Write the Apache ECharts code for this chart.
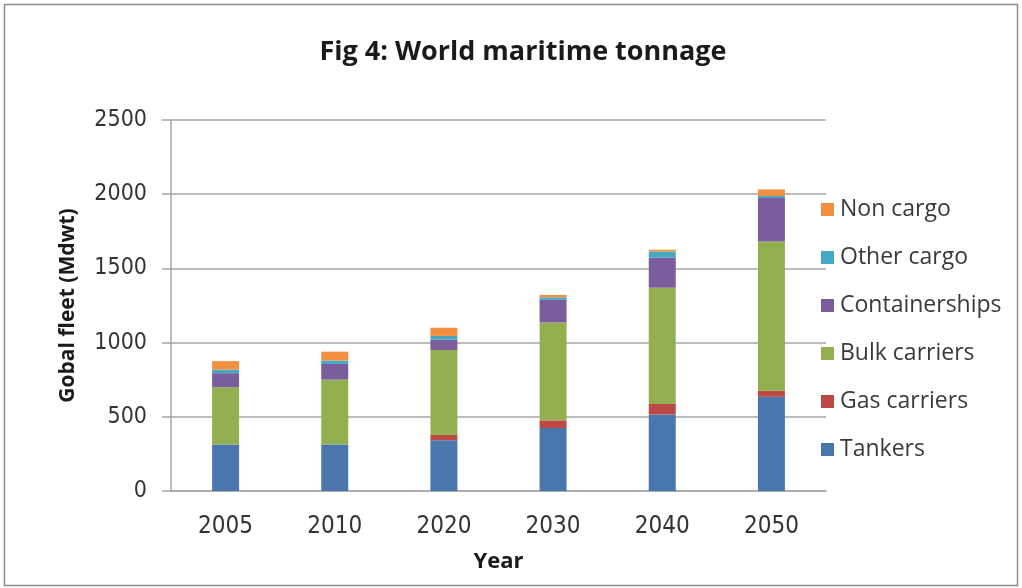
<!DOCTYPE html>
<html>
<head>
<meta charset="utf-8">
<title>World maritime tonnage</title>
<script src="https://cdn.jsdelivr.net/npm/echarts@6/dist/echarts.min.js"></script>
<style>
  html, body { margin: 0; padding: 0; background: #ffffff; }
  #chart { width: 1022px; height: 588px; }
</style>
</head>
<body>
<div id="chart"></div>
<script>
// Fleet size by ship type, million dead-weight tonnes
const years = ['2005', '2010', '2020', '2030', '2040', '2050'];
const tankers        = [313, 313, 342, 424, 516, 635];
const gasCarriers    = [0, 0, 36, 52, 71, 41];
const bulkCarriers   = [386, 438, 572, 660, 783, 1005];
const containerships = [95, 105, 69, 152, 202, 293];
const otherCargo     = [24, 23, 26, 17, 42, 14];
const nonCargo       = [57, 60, 55, 16, 12, 44];
const yTicks = [0, 500, 1000, 1500, 2000, 2500];

const seriesDefs = [
  { name: 'Tankers', data: tankers, color: '#4A76AE' },
  { name: 'Gas carriers', data: gasCarriers, color: '#BC4946' },
  { name: 'Bulk carriers', data: bulkCarriers, color: '#93B051' },
  { name: 'Containerships', data: containerships, color: '#7B5C9D' },
  { name: 'Other cargo', data: otherCargo, color: '#47A8C2' },
  { name: 'Non cargo', data: nonCargo, color: '#F28F40' }
];

const narrowFont = "'DejaVu Sans Condensed', 'Liberation Sans Narrow', Roboto, sans-serif";

const chart = echarts.init(document.getElementById('chart'), null, { renderer: 'canvas' });

chart.setOption({
  backgroundColor: '#ffffff',
  animation: false,
  graphic: [{
    type: 'rect',
    shape: { x: 4.5, y: 4.5, width: 1013, height: 581 },
    style: { fill: 'none', stroke: '#8c8c8c', lineWidth: 1.5 },
    silent: true
  }],
  title: {
    text: 'Fig 4: World maritime tonnage',
    left: 518,
    textAlign: 'center',
    top: 34,
    textStyle: { fontFamily: 'Open Sans', fontWeight: 'bold', fontSize: 27, color: '#1a1a1a' }
  },
  legend: {
    orient: 'vertical',
    left: 816,
    top: 193,
    itemWidth: 13,
    itemHeight: 13,
    itemGap: 25,
    icon: 'rect',
    data: ['Non cargo', 'Other cargo', 'Containerships', 'Bulk carriers', 'Gas carriers', 'Tankers'],
    textStyle: { fontFamily: 'Open Sans', fontSize: 23, color: '#3a3a3a', padding: [0, 0, 0, 1] }
  },
  grid: { left: 171, right: 196, top: 120, bottom: 97, containLabel: false },
  xAxis: {
    type: 'category',
    data: years,
    name: 'Year',
    nameLocation: 'middle',
    nameGap: 60,
    nameTextStyle: { fontFamily: 'Open Sans', fontWeight: 'bold', fontSize: 22, color: '#1a1a1a' },
    axisLine: { lineStyle: { color: '#a6a6a6', width: 1.5 } },
    axisTick: { show: false },
    axisLabel: { margin: 24, fontFamily: narrowFont, fontSize: 24, color: '#333333' }
  },
  yAxis: {
    type: 'value',
    min: yTicks[0],
    max: yTicks[yTicks.length - 1],
    interval: yTicks[1] - yTicks[0],
    name: 'Gobal fleet (Mdwt)',
    nameLocation: 'middle',
    nameRotate: 90,
    nameGap: 92,
    nameTextStyle: { fontFamily: 'Open Sans', fontWeight: 'bold', fontSize: 21, color: '#1a1a1a' },
    axisLine: { show: true, lineStyle: { color: '#a6a6a6', width: 1.5 } },
    axisTick: { show: true, length: 9, lineStyle: { color: '#a6a6a6', width: 1.5 } },
    splitLine: { lineStyle: { color: '#a6a6a6', width: 1.5 } },
    axisLabel: {
      margin: 24,
      fontFamily: narrowFont,
      fontSize: 23,
      color: '#333333',
      formatter: v => String(v)
    }
  },
  series: seriesDefs.map(s => ({
    name: s.name,
    type: 'bar',
    stack: 'fleet',
    barWidth: 27,
    data: s.data,
    itemStyle: { color: s.color }
  }))
});
</script>
</body>
</html>
